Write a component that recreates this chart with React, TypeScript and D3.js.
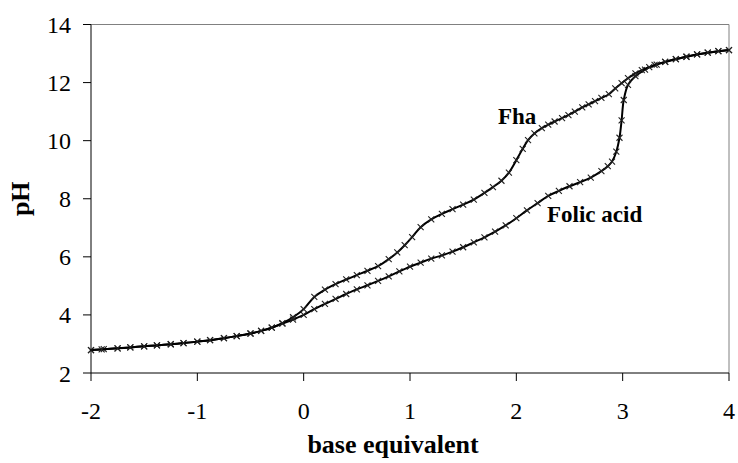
import { curveCatmullRom, line, scaleLinear } from 'd3';
import React from 'react';

// base equivalents and pH readings
const fhaBase = [
	-2.0, -1.9, -1.75, -1.63, -1.5, -1.38, -1.25, -1.13, -1.0, -0.88, -0.75, -0.63, -0.5, -0.4, -0.3,
	-0.2, -0.1, 0.0, 0.1, 0.2, 0.3, 0.4, 0.5, 0.6, 0.7, 0.8, 0.88, 0.95, 1.02, 1.1, 1.2, 1.3, 1.4,
	1.5, 1.6, 1.7, 1.78, 1.86, 1.93, 2.0, 2.06, 2.11, 2.17, 2.24, 2.3, 2.36, 2.43, 2.49, 2.55, 2.62,
	2.68, 2.74, 2.8, 2.87, 2.93, 2.99, 3.05, 3.12, 3.18, 3.25, 3.32, 3.4, 3.5, 3.6, 3.7, 3.8, 3.9, 4.0,
];
const fhaPH = [
	2.79, 2.81, 2.85, 2.88, 2.92, 2.95, 2.99, 3.03, 3.08, 3.13, 3.2, 3.27, 3.36, 3.45, 3.56,
	3.72, 3.92, 4.2, 4.62, 4.87, 5.06, 5.22, 5.37, 5.52, 5.68, 5.92, 6.15, 6.4, 6.68, 7.02, 7.29, 7.48, 7.64,
	7.8, 7.97, 8.2, 8.4, 8.62, 8.9, 9.33, 9.72, 10.02, 10.25, 10.43, 10.55, 10.66, 10.78, 10.88, 11.0, 11.15,
	11.25, 11.36, 11.47, 11.6, 11.8, 11.98, 12.15, 12.32, 12.43, 12.53, 12.62, 12.71, 12.81, 12.89, 12.97, 13.03, 13.08, 13.12,
];

const folicBase = [
	-2.0, -1.88, -1.75, -1.63, -1.5, -1.38, -1.25, -1.13, -1.0, -0.88, -0.75, -0.63, -0.5, -0.4, -0.3,
	-0.2, -0.1, 0.0, 0.1, 0.2, 0.3, 0.4, 0.5, 0.6, 0.7, 0.8, 0.9, 1.0, 1.1, 1.2, 1.3, 1.4, 1.5, 1.6,
	1.7, 1.8, 1.9, 2.0, 2.1, 2.2, 2.3, 2.4, 2.5, 2.6, 2.7, 2.8, 2.86, 2.9, 2.94, 2.97, 2.99, 3.01,
	3.05, 3.12, 3.21, 3.3, 3.4, 3.5, 3.6, 3.7, 3.8, 3.9, 4.0,
];
const folicPH = [
	2.79, 2.82, 2.85, 2.88, 2.92, 2.95, 2.99, 3.03, 3.08, 3.13, 3.2, 3.27, 3.36, 3.45, 3.56,
	3.7, 3.84, 4.0, 4.2, 4.38, 4.55, 4.72, 4.88, 5.02, 5.17, 5.33, 5.5, 5.66, 5.8, 5.94, 6.05, 6.18, 6.33, 6.5,
	6.67, 6.87, 7.08, 7.33, 7.6, 7.85, 8.1, 8.27, 8.43, 8.57, 8.73, 8.95, 9.12, 9.28, 9.62, 10.1, 10.7, 11.4,
	11.92, 12.22, 12.45, 12.61, 12.71, 12.81, 12.89, 12.97, 13.03, 13.08, 13.12,
];

const xTicks = [-2, -1, 0, 1, 2, 3, 4];
const yTicks = [2, 4, 6, 8, 10, 12, 14];

const width = 738;
const height = 463;
const plot = { left: 91, right: 729, top: 24.5, bottom: 373 };
const serif = 'Liberation Serif, Times New Roman, DejaVu Serif, serif';

const xScale = scaleLinear().domain([-2, 4]).range([plot.left, plot.right]);
const yScale = scaleLinear().domain([2, 14]).range([plot.bottom, plot.top]);

const pathFor = line<[number, number]>()
	.x(d => xScale(d[0]))
	.y(d => yScale(d[1]))
	.curve(curveCatmullRom.alpha(0.5));

const Series = ({ xs, ys }: { xs: number[]; ys: number[] }) => {
	const pts = xs.map((x, i) => [x, ys[i]] as [number, number]);
	const s = 3;
	return (
		<g>
			<path d={pathFor(pts) || ''} fill="none" stroke="#000" strokeWidth={2} />
			{pts.map((d, i) => {
				const cx = xScale(d[0]);
				const cy = yScale(d[1]);
				return (
					<path
						key={i}
						d={`M${cx - s},${cy - s}L${cx + s},${cy + s}M${cx - s},${cy + s}L${cx + s},${cy - s}`}
						stroke="#222"
						strokeWidth={1.1}
					/>
				);
			})}
		</g>
	);
};

const txt = { fontFamily: serif };

const App = () => {
	return (
		<svg width={width} height={height} style={{ position: 'absolute', left: 0, top: 0, background: '#fff' }}>
			{/* plot frame */}
			<line x1={plot.left} x2={plot.right} y1={plot.top} y2={plot.top} stroke="#808080" />
			<line x1={plot.right} x2={plot.right} y1={plot.top} y2={plot.bottom} stroke="#808080" />

			<Series xs={folicBase} ys={folicPH} />
			<Series xs={fhaBase} ys={fhaPH} />

			{/* axes */}
			<line x1={plot.left} x2={plot.left} y1={plot.top} y2={plot.bottom} stroke="#000" />
			<line x1={plot.left} x2={plot.right} y1={plot.bottom} y2={plot.bottom} stroke="#000" />

			{yTicks.map(t => (
				<g key={t} transform={`translate(0,${yScale(t)})`}>
					<line x1={plot.left - 8} x2={plot.left} stroke="#000" />
					<text x={71} dy={8.5} textAnchor="end" style={txt} fontSize={24}>
						{t}
					</text>
				</g>
			))}
			{xTicks.map(t => (
				<g key={t} transform={`translate(${xScale(t)},0)`}>
					<line y1={plot.bottom} y2={plot.bottom + 8} stroke="#000" />
					<text y={419} textAnchor="middle" style={txt} fontSize={24}>
						{t}
					</text>
				</g>
			))}

			<text x={393} y={453} textAnchor="middle" style={txt} fontSize={26} fontWeight="bold">
				base equivalent
			</text>
			<text
				transform={`translate(29,${(plot.top + plot.bottom) / 2}) rotate(-90)`}
				textAnchor="middle"
				style={txt}
				fontSize={26}
				fontWeight="bold"
			>
				pH
			</text>

			<text x={498} y={124} style={txt} fontSize={23} fontWeight="bold">
				Fha
			</text>
			<text x={547} y={222} style={txt} fontSize={23} fontWeight="bold">
				Folic acid
			</text>
		</svg>
	);
};

export default App;
